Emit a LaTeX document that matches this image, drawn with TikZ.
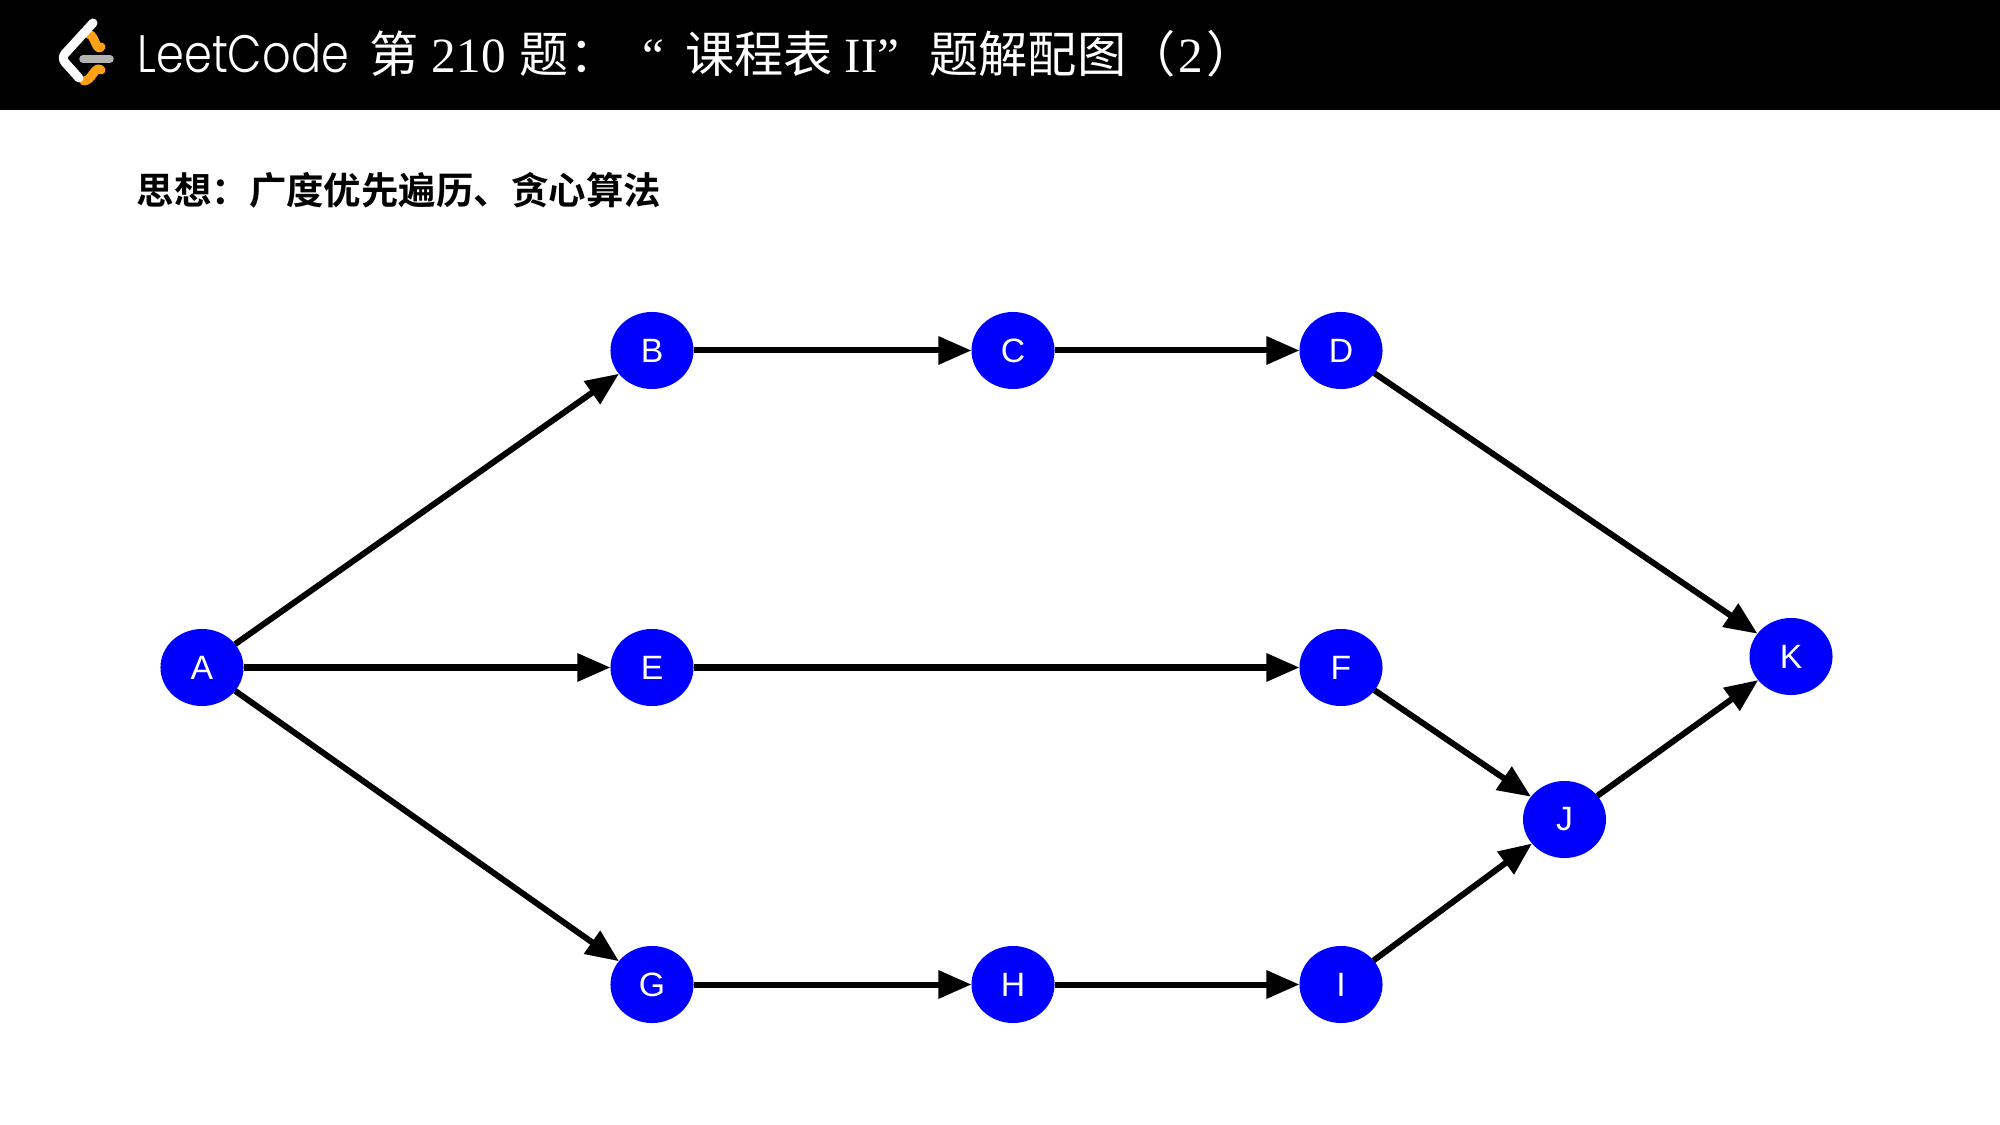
\documentclass[tikz,border=0pt]{standalone}
\usepackage{fontspec}
\usepackage{amsmath}
\setmainfont{Liberation Serif}
\setsansfont{Liberation Sans}
\newfontfamily\cjk{Noto Sans CJK SC}
\newfontfamily\cjkbold{Noto Sans CJK SC Bold}
\newfontfamily\lcfont{Poppins Light}
\usetikzlibrary{arrows.meta,shapes.geometric}
\definecolor{mBlue}{RGB}{0,0,255}
\definecolor{mOrange}{RGB}{255,161,22}
\definecolor{mGray}{RGB}{178,178,178}
\tikzset{
  vertex/.style={ellipse,fill=mBlue,text=white,inner sep=0pt,outer sep=0pt,minimum width=0.83cm,minimum height=0.77cm,font=\sffamily\fontsize{9.6}{10}\selectfont},
  edge/.style={-{Triangle[length=0.33cm,width=0.27cm]},line width=0.06cm,black},
  logo/.style={line width=0.09cm,line cap=round,line join=round}
}
\begin{document}
\begin{tikzpicture}[x=0.01cm,y=-0.01cm]
    \useasboundingbox (0,0) rectangle (2000,1125);
    % Header bar
    \fill[black] (0,0) rectangle (2000,110);
    \draw[logo,mOrange] (88,34) to[out=0,in=-135] (101,47);
    \draw[logo,mOrange] (101,70) to[out=135,in=0] (84,81);
    \draw[logo,white,rounded corners=0.06cm] (93,23) -- (61,58) -- (79,78);
    \draw[logo,mGray,line width=0.075cm] (83,59) -- (110,59);
    \node[anchor=base west,inner sep=0pt,text=white] (brand) at (137,73) {\scalebox{1}[1.18]{\lcfont\fontsize{12.7}{14}\selectfont LeetCode}};
    \node[anchor=base west,inner sep=0pt,text=white] (title) at (369,73) {\fontsize{14}{16}\selectfont{\cjk 第}\hspace{0.13cm}210\hspace{0.14cm}{\cjk 题：}\hspace{0.24cm}“\hspace{0.21cm}{\cjk 课程表}\hspace{0.12cm}II”\hspace{0.3cm}{\cjk 题解配图（}\hspace{0.03cm}2\hspace{0.03cm}{\cjk ）}};
    % Subtitle
    \node[anchor=base west,inner sep=0pt] (idea) at (136,205) {\cjkbold\fontsize{10.65}{14}\selectfont 思想：广度优先遍历、贪心算法};
    % Vertices
    \foreach \name/\x/\y in {A/202/667.5,B/652/350.5,C/1013/350.5,D/1341/350.5,E/652/667.5,F/1341/667.5,G/652/984.5,H/1013/984.5,I/1341/984.5,J/1564.5/819.5,K/1791/656.5} {
      \node[vertex] (\name) at (\x,\y) {\name};
    }
    % Edges
    \foreach \from/\to in {A/B,A/E,A/G,B/C,C/D,D/K,E/F,F/J,G/H,H/I,I/J,J/K} {
      \draw[edge] (\from) -- (\to);
    }
  \end{tikzpicture}
\end{document}
